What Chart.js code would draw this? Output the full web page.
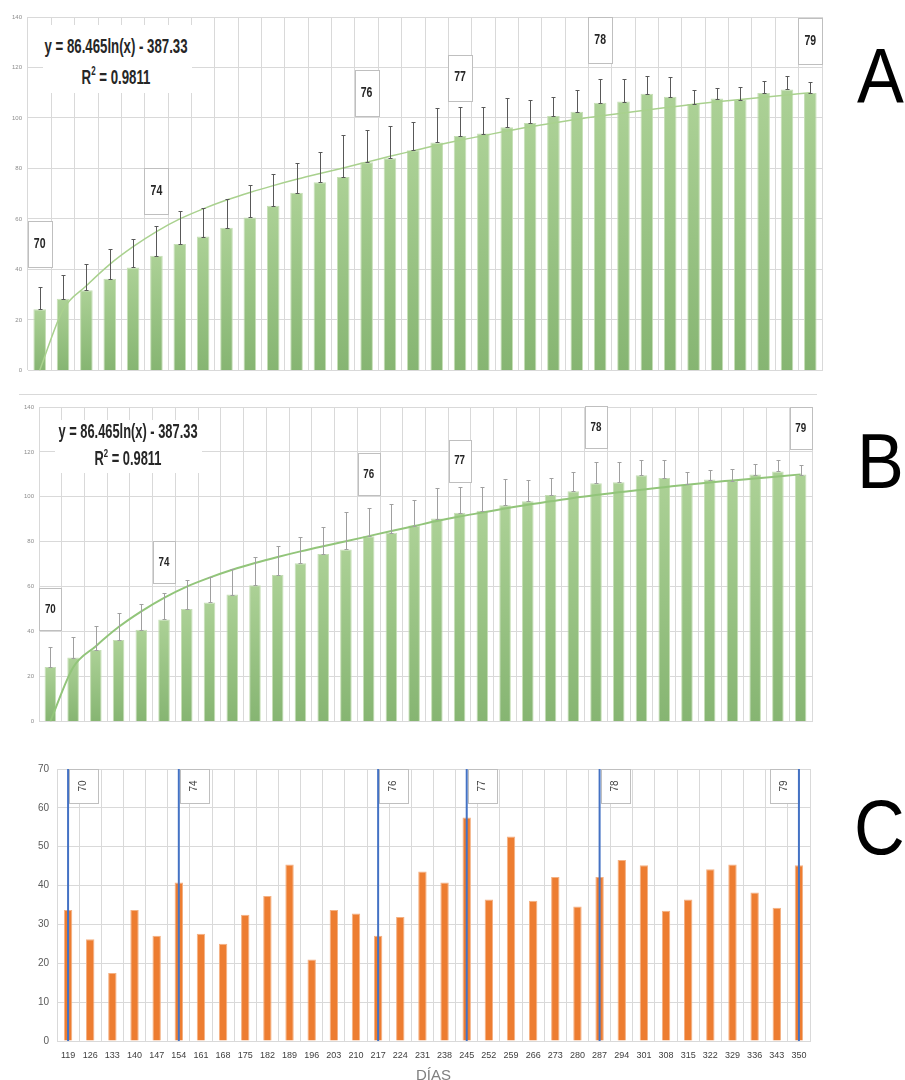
<!DOCTYPE html>
<html>
<head>
<meta charset="utf-8">
<script src="https://cdn.jsdelivr.net/npm/chart.js@4.4.0/dist/chart.umd.min.js"></script>
<style>
  body { margin: 0; background: #fff; width: 905px; height: 1080px; overflow: hidden; position: relative; font-family: "Liberation Sans", Arial, sans-serif; }
  canvas { position: absolute; left: 0; }
  .eqbg { position: absolute; background: #fff; }
  .eq { position: absolute; color: #262626; font-weight: bold; text-align: center; white-space: nowrap; transform-origin: center top; }
  .eq sup { font-size: 60%; vertical-align: 0.7em; line-height: 0; }
  .letter { position: absolute; font-size: 78px; line-height: 1; color: #000; transform: scaleX(0.9); transform-origin: left top; }
  .sep { position: absolute; left: 19px; top: 394px; width: 798px; height: 1px; background: #d9d9d9; }
</style>
</head>
<body>
<canvas id="chartA" width="830" height="380" style="top:0px"></canvas>
<div class="sep"></div>
<canvas id="chartB" width="830" height="335" style="top:395px"></canvas>
<canvas id="chartC" width="830" height="335" style="top:755px"></canvas>

<div class="eqbg" style="left:43px;top:25px;width:149px;height:68px"></div>
<div class="eq" style="left:116px;top:29.5px;font-size:21px;line-height:31px;transform:translateX(-50%) scaleX(0.63)">y = 86.465ln(x) - 387.33<br>R<sup>2</sup> = 0.9811</div>
<div class="eqbg" style="left:55px;top:420px;width:147px;height:53px"></div>
<div class="eq" style="left:128px;top:417.5px;font-size:19.5px;line-height:27px;transform:translateX(-50%) scaleX(0.66)">y = 86.465ln(x) - 387.33<br>R<sup>2</sup> = 0.9811</div>

<div class="letter" style="left:857px;top:37px">A</div>
<div class="letter" style="left:857px;top:422px">B</div>
<div class="letter" style="left:854px;top:788px">C</div>

<script>
// sampling days (x axis)
const days = [119, 126, 133, 140, 147, 154, 161, 168, 175, 182, 189, 196, 203, 210, 217, 224, 231,
  238, 245, 252, 259, 266, 273, 280, 287, 294, 301, 308, 315, 322, 329, 336, 343, 350];

// panels A and B: mean value per day, standard deviation, log trend line
const meanValues = [24.2, 28.4, 31.8, 36.3, 40.8, 45.4, 50.1, 53.0, 56.5, 60.6, 65.2, 70.4, 74.5, 76.6, 82.5, 84.0, 87.2,
  90.3, 92.9, 93.8, 96.3, 98.0, 100.8, 102.5, 106.0, 106.5, 109.6, 108.4, 105.5, 107.7, 107.1, 109.9, 111.3, 109.9];
const sdValues = [8.8, 9.3, 10.5, 11.9, 11.3, 11.8, 13.0, 11.5, 11.5, 12.7, 12.7, 11.6, 11.9, 16.7, 12.7, 12.9, 11.4,
  13.6, 11.6, 10.5, 11.6, 9.3, 7.6, 8.4, 9.3, 8.8, 6.9, 8.0, 5.4, 4.2, 5.3, 4.9, 5.2, 4.4];
const trendValues = [0, 24, 33.5, 42, 49, 55, 60, 64, 67.5, 70.5, 73.2, 75.7, 78, 80.2, 82.5, 84.8, 87,
  89.2, 91.2, 93, 94.8, 96.5, 98, 99.5, 100.8, 102, 103.2, 104.3, 105.4, 106.4, 107.3, 108.2, 109.1, 110];

// panel C: value per day
const weeklyValues = [33.7, 26.2, 17.5, 33.7, 27.1, 40.8, 27.6, 25.0, 32.5, 37.3, 45.4, 21.0, 33.7, 32.8, 27.1, 31.9, 43.6,
  40.8, 57.5, 36.4, 52.6, 36.1, 42.2, 34.6, 42.2, 46.6, 45.2, 33.5, 36.4, 44.2, 45.4, 38.2, 34.3, 45.2];

// stage markers
const stageLabels = ['70', '74', '76', '77', '78', '79'];
const stageDays = [119, 154, 217, 245, 287, 350];
// vertical placement of the boxes in A and B (axis units, box centre)
const stageBoxCentre = [50, 71, 110, 116, 131, 130.5];

function greenBars(ctx) {
  const chart = ctx.chart;
  const area = chart.chartArea;
  if (!area || !chart.scales.y) return '#9cc788';
  const top = chart.scales.y.getPixelForValue(ctx.raw);
  if (!isFinite(top) || area.bottom - top < 1) return '#9cc788';
  const g = chart.ctx.createLinearGradient(0, top, 0, area.bottom);
  g.addColorStop(0, '#acd196');
  g.addColorStop(1, '#86b572');
  return g;
}

const errorBars = {
  id: 'errorBars',
  afterDatasetsDraw(chart, args, opts) {
    if (!opts.on) return;
    const meta = chart.getDatasetMeta(1);
    const y = chart.scales.y;
    const c = chart.ctx;
    c.save();
    c.strokeStyle = opts.color;
    c.lineWidth = 1;
    meta.data.forEach((bar, i) => {
      const x = Math.round(bar.x) + 0.5;
      const y0 = Math.round(y.getPixelForValue(meanValues[i])) + 0.5;
      const y1 = Math.round(y.getPixelForValue(meanValues[i] + sdValues[i])) + 0.5;
      c.beginPath();
      c.moveTo(x, y0); c.lineTo(x, y1);
      c.moveTo(x - opts.cap, y1); c.lineTo(x + opts.cap, y1);
      c.moveTo(x - opts.cap, y0); c.lineTo(x + opts.cap, y0);
      c.stroke();
    });
    c.restore();
  }
};

const stageMarks = {
  id: 'stageMarks',
  afterDatasetsDraw(chart, args, o) {
    if (!o.on) return;
    const c = chart.ctx;
    const xs = chart.scales.x, ys = chart.scales.y;
    const area = chart.chartArea;
    c.save();
    stageDays.forEach((d, i) => {
      const cx = xs.getPixelForValue(days.indexOf(d));
      if (o.rotated) {
        // blue marker line with a box beside it
        let bx = cx + 1;
        if (bx + o.w > area.right) bx = cx - o.w;
        const by = area.top;
        c.fillStyle = '#fff';
        c.fillRect(bx, by, o.w, o.h);
        c.strokeStyle = '#bfbfbf';
        c.lineWidth = 1;
        c.strokeRect(Math.round(bx) + 0.5, by + 0.5, o.w, o.h);
        c.save();
        c.translate(bx + o.w / 2, by + o.h / 2);
        c.rotate(-Math.PI / 2);
        c.fillStyle = '#404040';
        c.font = o.font;
        c.textAlign = 'center';
        c.textBaseline = 'middle';
        c.fillText(stageLabels[i], 0, 0);
        c.restore();
        c.strokeStyle = '#4472c4';
        c.lineWidth = 2;
        c.beginPath();
        c.moveTo(cx, area.top);
        c.lineTo(cx, area.bottom);
        c.stroke();
      } else {
        const cy = ys.getPixelForValue(stageBoxCentre[i]);
        const bx = Math.round(cx - o.w / 2) + 0.5, by = Math.round(cy - o.h / 2) + 0.5;
        c.fillStyle = '#fff';
        c.fillRect(bx, by, o.w, o.h);
        c.strokeStyle = '#bfbfbf';
        c.lineWidth = 1;
        c.strokeRect(bx, by, o.w, o.h);
        c.save();
        c.translate(cx, cy);
        c.scale(0.75, 1);
        c.fillStyle = '#262626';
        c.font = o.font;
        c.textAlign = 'center';
        c.textBaseline = 'middle';
        c.fillText(stageLabels[i], 0, 0);
        c.restore();
      }
    });
    c.restore();
  }
};

function greenChart(id, opt) {
  return new Chart(document.getElementById(id), {
    data: {
      labels: days,
      datasets: [
        {
          type: 'line',
          data: trendValues,
          borderColor: opt.trendColor,
          borderWidth: opt.trendWidth,
          pointRadius: 0,
          cubicInterpolationMode: 'monotone',
          order: 0
        },
        {
          type: 'bar',
          data: meanValues,
          backgroundColor: greenBars,
          borderColor: '#c6dfb6',
          borderWidth: 1,
          barPercentage: opt.barPct,
          categoryPercentage: 1,
          order: 1
        }
      ]
    },
    options: {
      responsive: false,
      animation: false,
      layout: { padding: opt.padding },
      plugins: {
        legend: { display: false },
        tooltip: { enabled: false },
        errorBars: { on: true, color: opt.errColor, cap: 2 },
        stageMarks: { on: true, rotated: false, w: opt.boxW, h: opt.boxH, font: opt.boxFont }
      },
      scales: {
        x: {
          grid: { color: '#d9d9d9', offset: true, drawTicks: false },
          border: { color: '#d9d9d9' },
          ticks: { display: false },
          afterFit(s) { s.height = 0; }
        },
        y: {
          min: 0, max: 140,
          ticks: { stepSize: 20, color: '#8c8c8c', font: { size: 6, family: 'Liberation Sans' }, padding: opt.tickPad },
          grid: { color: '#d9d9d9', drawTicks: false },
          border: { display: false },
          afterFit(s) { s.width = opt.axisW; }
        }
      }
    },
    plugins: [errorBars, stageMarks]
  });
}

greenChart('chartA', {
  trendColor: '#a9d18e', trendWidth: 1.5, barPct: 0.54, errColor: '#595959',
  boxW: 24, boxH: 46, boxFont: 'bold 14px "Liberation Sans", Arial, sans-serif',
  padding: { top: 17, right: 8, bottom: 7, left: 0 }, axisW: 28, tickPad: 6
});

greenChart('chartB', {
  trendColor: '#92c57a', trendWidth: 2, barPct: 0.51, errColor: '#a0a0a0',
  boxW: 22, boxH: 42, boxFont: 'bold 13px "Liberation Sans", Arial, sans-serif',
  padding: { top: 12, right: 18, bottom: 7, left: 0 }, axisW: 39, tickPad: 5
});

new Chart(document.getElementById('chartC'), {
  type: 'bar',
  data: {
    labels: days,
    datasets: [{
      data: weeklyValues,
      backgroundColor: '#ed7d31',
      borderColor: '#f4b183',
      borderWidth: 1,
      barPercentage: 0.38,
      categoryPercentage: 1
    }]
  },
  options: {
    responsive: false,
    animation: false,
    layout: { padding: { top: 11, right: 20, bottom: 0, left: 0 } },
    plugins: {
      legend: { display: false },
      tooltip: { enabled: false },
      stageMarks: { on: true, rotated: true, w: 29, h: 34, font: '10px "Liberation Sans", Arial, sans-serif' }
    },
    scales: {
      x: {
        grid: { color: '#d9d9d9', offset: true, drawTicks: false, lineWidth: 1 },
        border: { color: '#d9d9d9' },
        ticks: { color: '#404040', font: { size: 9, family: 'Liberation Sans' }, padding: 9, maxRotation: 0, autoSkip: false },
        title: { display: true, text: 'DÍAS', color: '#7f7f7f', font: { size: 15, family: 'Liberation Sans' }, padding: { top: 0, bottom: 5 } },
        afterFit(s) { s.height = 49; }
      },
      y: {
        min: 0, max: 70,
        ticks: { stepSize: 10, color: '#595959', font: { size: 10, family: 'Liberation Sans' }, padding: 8 },
        grid: { color: '#d9d9d9', drawTicks: false },
        border: { display: false },
        afterFit(s) { s.width = 57; }
      }
    }
  },
  plugins: [stageMarks]
});
</script>
</body>
</html>
